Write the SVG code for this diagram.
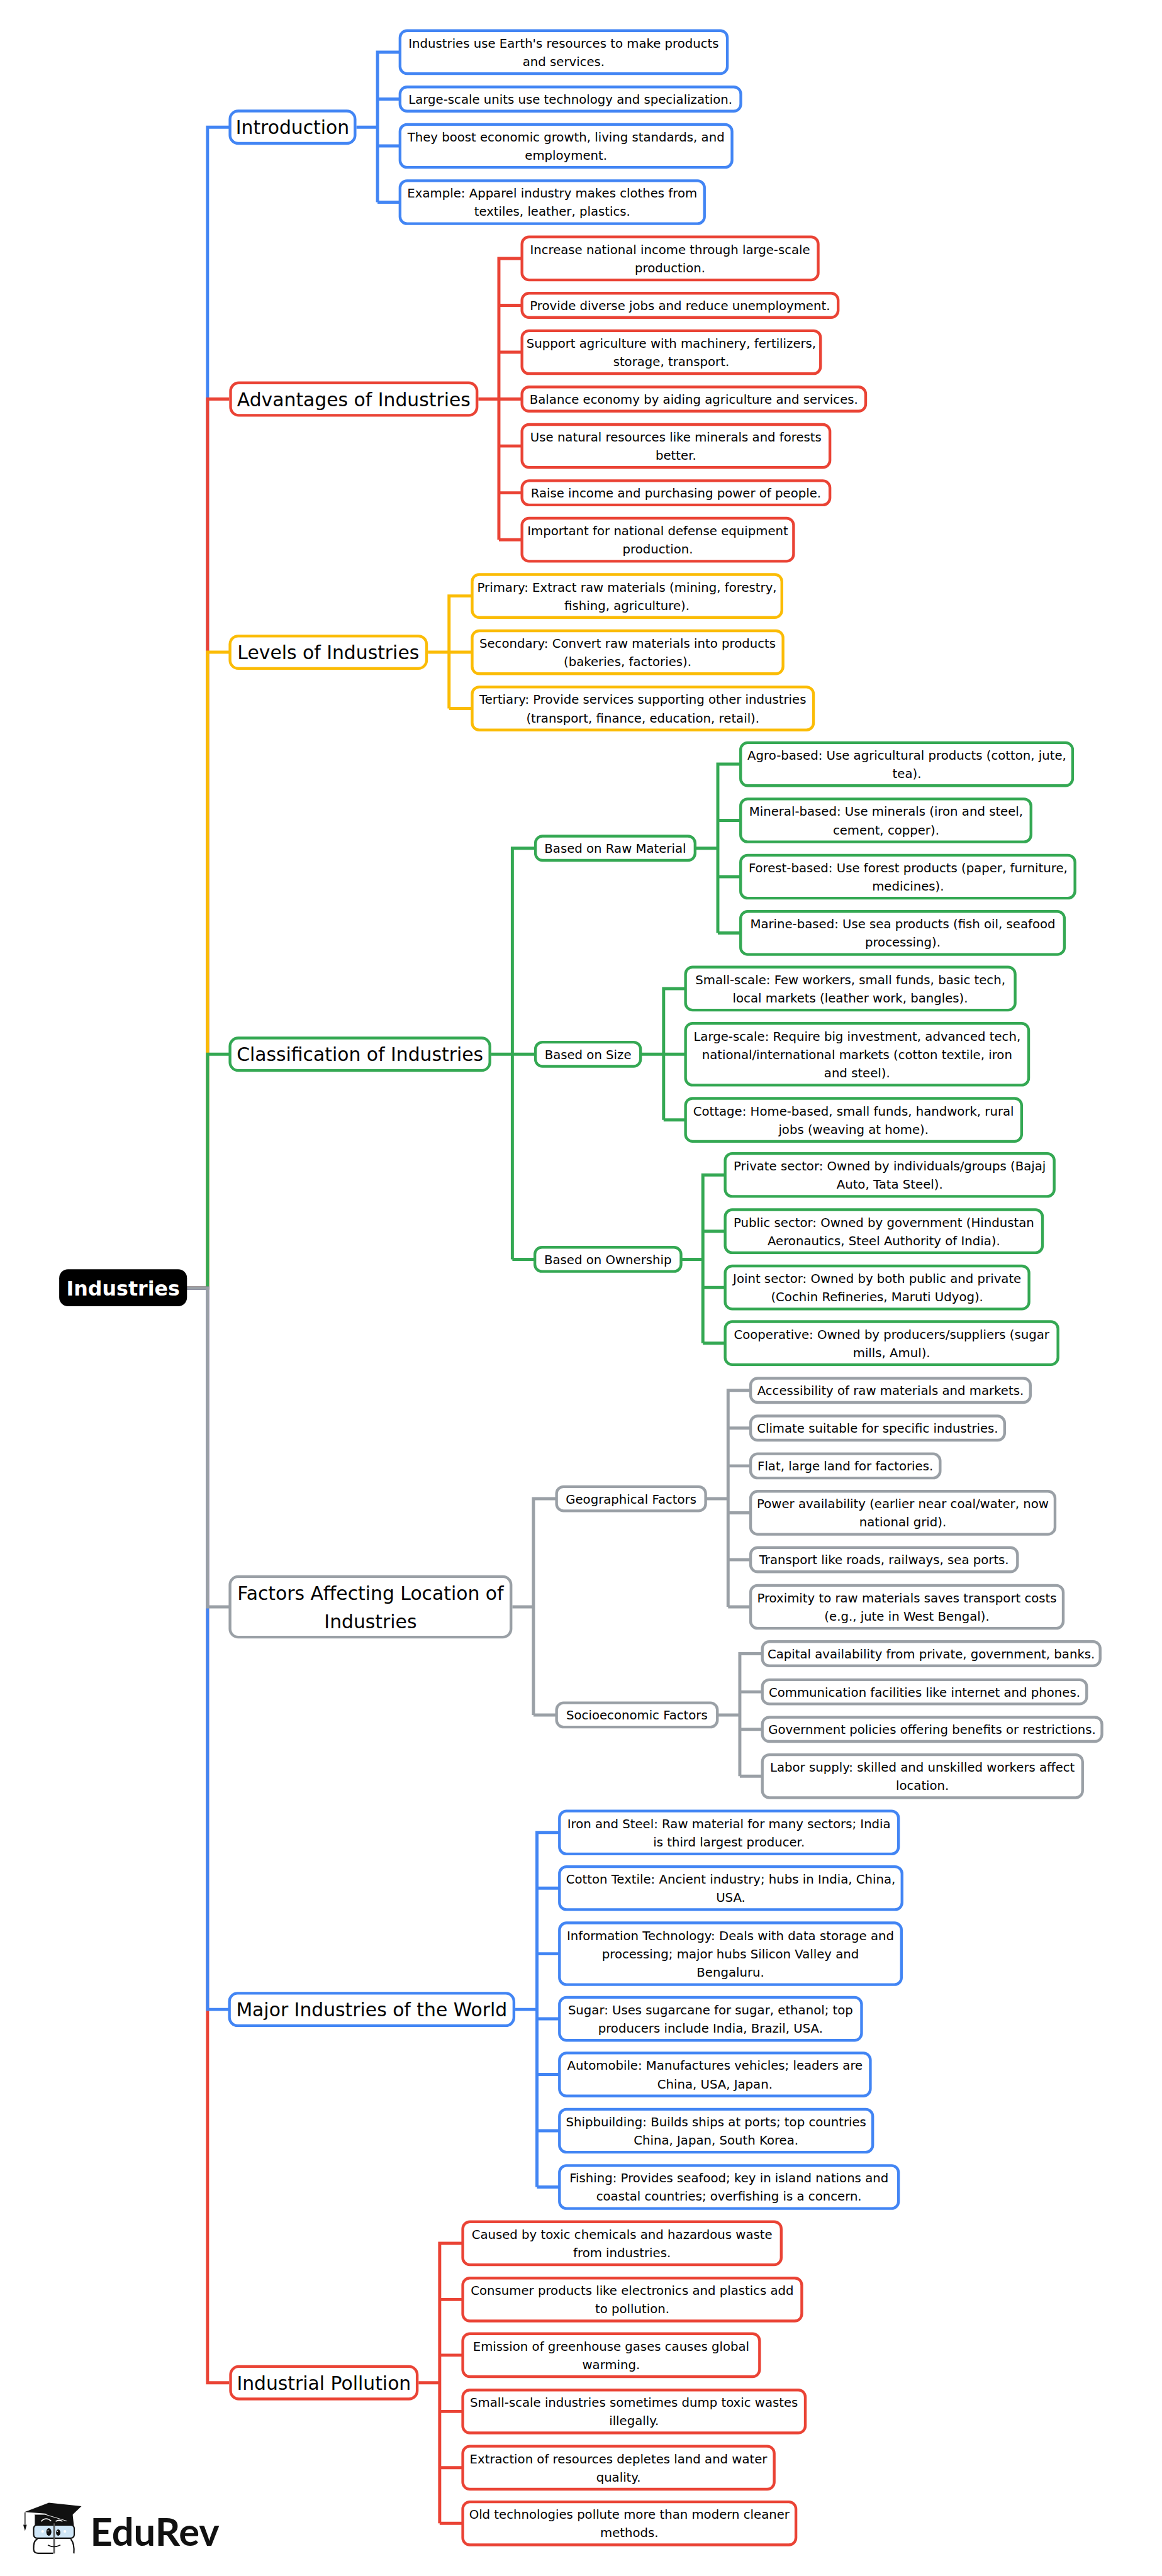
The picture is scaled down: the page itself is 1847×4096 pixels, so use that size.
<svg xmlns="http://www.w3.org/2000/svg" width="1847" height="4096" viewBox="0 0 1847 4096">
<style>
text{font-family:"DejaVu Sans","Liberation Sans",sans-serif;text-anchor:middle;fill:#000}
.t{font-size:21.15px}
.h{font-size:32px}
.root{font-size:34px;font-weight:700;fill:#fff}
.b{fill:#fff;stroke-width:4.7}
.c{fill:none;stroke-width:5.3;stroke-linejoin:miter}
.blue{stroke:#4285F4}.red{stroke:#EA4335}.yel{stroke:#FBBC05}.grn{stroke:#34A853}.gry{stroke:#9AA0A6}
</style>
<rect width="1847" height="4096" fill="#fff"/>
<g transform="scale(0.9318)">
<g id="connectors">
<path class="c blue" d="M319,2198H354V217H391"/>
<path class="c red" d="M319,2198H354V681H391"/>
<path class="c yel" d="M319,2198H354V1113H391"/>
<path class="c grn" d="M319,2198H354V1799H391"/>
<path class="c red" d="M319,2198H354V4066H391"/>
<path class="c blue" d="M319,2198H354V3429H391"/>
<path class="c gry" d="M319,2198H354V2742H391"/>
<path class="c blue" d="M608,217H644V89H682M644,169H682M644,249H682M644,345H682M644,217V345"/>
<path class="c red" d="M816,681H851V441H890M851,521H890M851,601H890M851,681H890M851,761H890M851,841H890M851,921H890M851,681V921"/>
<path class="c yel" d="M730,1113H766V1017H805M766,1113H805M766,1209H805M766,1113V1209"/>
<path class="c grn" d="M838,1799H874V1447.5H913M874,1799H913M874,2149H913M874,1799V2149"/>
<path class="c grn" d="M1187,1447.5H1224.5V1304H1264M1224.5,1400H1264M1224.5,1496H1264M1224.5,1592H1264M1224.5,1447.5V1592"/>
<path class="c grn" d="M1094,1799H1132V1687H1170M1132,1799H1170M1132,1911H1170M1132,1799V1911"/>
<path class="c grn" d="M1163,2149H1199V2005H1237M1199,2101H1237M1199,2197H1237M1199,2292H1237M1199,2149V2292"/>
<path class="c gry" d="M874,2742H910V2557.5H949M910,2926.5H949M910,2742V2926.5"/>
<path class="c gry" d="M1205,2557.5H1242V2372.5H1280M1242,2437H1280M1242,2501.5H1280M1242,2581.5H1280M1242,2661.5H1280M1242,2742H1280M1242,2557.5V2742"/>
<path class="c gry" d="M1225,2926.5H1262V2822H1301M1262,2887H1301M1262,2951H1301M1262,3031H1301M1262,2926.5V3031"/>
<path class="c blue" d="M879,3429H916V3127H955M916,3222H955M916,3334H955M916,3445H955M916,3540H955M916,3636H955M916,3732H955M916,3429V3732"/>
<path class="c red" d="M714,4066H750V3828H790M750,3924H790M750,4019H790M750,4115H790M750,4211H790M750,4306H790M750,4066V4306"/>
</g>

<g id="root"><rect x="101" y="2166" width="218" height="63" rx="15" fill="#000"/><text class="root" x="210" y="2211">Industries</text></g>

<g id="introduction"><rect class="b blue" x="392.35" y="189.35" width="213.3" height="55.3" rx="14"/><text class="h" x="499" y="229">Introduction</text></g>
<g id="intro-1"><rect class="b blue" x="682.4" y="52.35" width="558.3" height="73.3" rx="12"/><text class="t" x="961.5" y="81.4">Industries use Earth's resources to make products<tspan x="961.5" dy="31.2">and services.</tspan></text></g>
<g id="intro-2"><rect class="b blue" x="682.4" y="148.35" width="581.3" height="41.3" rx="12"/><text class="t" x="973" y="177">Large-scale units use technology and specialization.</text></g>
<g id="intro-3"><rect class="b blue" x="682.4" y="212.35" width="566.3" height="73.3" rx="12"/><text class="t" x="965.5" y="241.4">They boost economic growth, living standards, and<tspan x="965.5" dy="31.2">employment.</tspan></text></g>
<g id="intro-4"><rect class="b blue" x="682.4" y="308.35" width="519.3" height="73.3" rx="12"/><text class="t" x="942" y="337.4">Example: Apparel industry makes clothes from<tspan x="942" dy="31.2">textiles, leather, plastics.</tspan></text></g>

<g id="advantages"><rect class="b red" x="393.35" y="653.35" width="420.3" height="55.3" rx="14"/><text class="h" x="603.5" y="693">Advantages of Industries</text></g>
<g id="adv-1"><rect class="b red" x="890.4" y="404.35" width="505.3" height="73.3" rx="12"/><text class="t" x="1143" y="433.4">Increase national income through large-scale<tspan x="1143" dy="31.2">production.</tspan></text></g>
<g id="adv-2"><rect class="b red" x="890.4" y="500.35" width="539.3" height="41.3" rx="12"/><text class="t" x="1160" y="529">Provide diverse jobs and reduce unemployment.</text></g>
<g id="adv-3"><rect class="b red" x="890.4" y="564.35" width="509.3" height="73.3" rx="12"/><text class="t" x="1145" y="593.4">Support agriculture with machinery, fertilizers,<tspan x="1145" dy="31.2">storage, transport.</tspan></text></g>
<g id="adv-4"><rect class="b red" x="890.4" y="660.35" width="586.3" height="41.3" rx="12"/><text class="t" x="1183.5" y="689">Balance economy by aiding agriculture and services.</text></g>
<g id="adv-5"><rect class="b red" x="890.4" y="724.35" width="525.3" height="73.3" rx="12"/><text class="t" x="1153" y="753.4">Use natural resources like minerals and forests<tspan x="1153" dy="31.2">better.</tspan></text></g>
<g id="adv-6"><rect class="b red" x="890.4" y="820.35" width="525.3" height="41.3" rx="12"/><text class="t" x="1153" y="849">Raise income and purchasing power of people.</text></g>
<g id="adv-7"><rect class="b red" x="890.4" y="884.35" width="463.3" height="73.3" rx="12"/><text class="t" x="1122" y="913.4">Important for national defense equipment<tspan x="1122" dy="31.2">production.</tspan></text></g>

<g id="levels"><rect class="b yel" x="392.35" y="1085.35" width="335.3" height="55.3" rx="14"/><text class="h" x="560" y="1125">Levels of Industries</text></g>
<g id="lev-1"><rect class="b yel" x="805.4" y="980.35" width="528.3" height="73.3" rx="12"/><text class="t" x="1069.5" y="1009.4">Primary: Extract raw materials (mining, forestry,<tspan x="1069.5" dy="31.2">fishing, agriculture).</tspan></text></g>
<g id="lev-2"><rect class="b yel" x="805.4" y="1076.35" width="530.3" height="73.3" rx="12"/><text class="t" x="1070.5" y="1105.4">Secondary: Convert raw materials into products<tspan x="1070.5" dy="31.2">(bakeries, factories).</tspan></text></g>
<g id="lev-3"><rect class="b yel" x="805.4" y="1172.35" width="582.3" height="73.3" rx="12"/><text class="t" x="1096.5" y="1201.4">Tertiary: Provide services supporting other industries<tspan x="1096.5" dy="31.2">(transport, finance, education, retail).</tspan></text></g>

<g id="classification"><rect class="b grn" x="392.35" y="1771.35" width="443.3" height="55.3" rx="14"/><text class="h" x="614" y="1811">Classification of Industries</text></g>
<g id="raw"><rect class="b grn" x="913.4" y="1426.85" width="272.3" height="41.3" rx="12"/><text class="t" x="1049.5" y="1455.5">Based on Raw Material</text></g>
<g id="raw-1"><rect class="b grn" x="1263.4" y="1267.35" width="566.3" height="73.3" rx="12"/><text class="t" x="1547" y="1296.4">Agro-based: Use agricultural products (cotton, jute,<tspan x="1547" dy="31.2">tea).</tspan></text></g>
<g id="raw-2"><rect class="b grn" x="1263.4" y="1363.35" width="495.3" height="73.3" rx="12"/><text class="t" x="1511.5" y="1392.4">Mineral-based: Use minerals (iron and steel,<tspan x="1511.5" dy="31.2">cement, copper).</tspan></text></g>
<g id="raw-3"><rect class="b grn" x="1263.4" y="1459.35" width="570.3" height="73.3" rx="12"/><text class="t" x="1549" y="1488.4">Forest-based: Use forest products (paper, furniture,<tspan x="1549" dy="31.2">medicines).</tspan></text></g>
<g id="raw-4"><rect class="b grn" x="1263.4" y="1555.35" width="552.3" height="73.3" rx="12"/><text class="t" x="1540" y="1584.4">Marine-based: Use sea products (fish oil, seafood<tspan x="1540" dy="31.2">processing).</tspan></text></g>
<g id="size"><rect class="b grn" x="913.4" y="1778.35" width="179.3" height="41.3" rx="12"/><text class="t" x="1003" y="1807">Based on Size</text></g>
<g id="size-1"><rect class="b grn" x="1169.4" y="1650.35" width="562.3" height="73.3" rx="12"/><text class="t" x="1450.5" y="1679.4">Small-scale: Few workers, small funds, basic tech,<tspan x="1450.5" dy="31.2">local markets (leather work, bangles).</tspan></text></g>
<g id="size-2"><rect class="b grn" x="1169.4" y="1746.35" width="585.3" height="105.3" rx="12"/><text class="t" x="1462" y="1775.8">Large-scale: Require big investment, advanced tech,<tspan x="1462" dy="31.2">national/international markets (cotton textile, iron</tspan><tspan x="1462" dy="31.2">and steel).</tspan></text></g>
<g id="size-3"><rect class="b grn" x="1169.4" y="1874.35" width="573.3" height="73.3" rx="12"/><text class="t" x="1456" y="1903.4">Cottage: Home-based, small funds, handwork, rural<tspan x="1456" dy="31.2">jobs (weaving at home).</tspan></text></g>
<g id="own"><rect class="b grn" x="912.4" y="2128.35" width="249.3" height="41.3" rx="12"/><text class="t" x="1037" y="2157">Based on Ownership</text></g>
<g id="own-1"><rect class="b grn" x="1237" y="1968.35" width="561.3" height="73.3" rx="12"/><text class="t" x="1517.7" y="1997.4">Private sector: Owned by individuals/groups (Bajaj<tspan x="1517.7" dy="31.2">Auto, Tata Steel).</tspan></text></g>
<g id="own-2"><rect class="b grn" x="1237" y="2064.35" width="541.3" height="73.3" rx="12"/><text class="t" x="1507.7" y="2093.4">Public sector: Owned by government (Hindustan<tspan x="1507.7" dy="31.2">Aeronautics, Steel Authority of India).</tspan></text></g>
<g id="own-3"><rect class="b grn" x="1237" y="2160.35" width="518.3" height="73.3" rx="12"/><text class="t" x="1496.2" y="2189.4">Joint sector: Owned by both public and private<tspan x="1496.2" dy="31.2">(Cochin Refineries, Maruti Udyog).</tspan></text></g>
<g id="own-4"><rect class="b grn" x="1237" y="2255.35" width="567.7" height="73.3" rx="12"/><text class="t" x="1520.9" y="2284.4">Cooperative: Owned by producers/suppliers (sugar<tspan x="1520.9" dy="31.2">mills, Amul).</tspan></text></g>

<g id="factors"><rect class="b gry" x="392.35" y="2690.35" width="479.3" height="103.3" rx="14"/><text class="h" x="632" y="2730">Factors Affecting Location of<tspan x="632" dy="48">Industries</tspan></text></g>
<g id="geo"><rect class="b gry" x="949.4" y="2536.85" width="254.3" height="41.3" rx="12"/><text class="t" x="1076.5" y="2565.5">Geographical Factors</text></g>
<g id="geo-1"><rect class="b gry" x="1280.4" y="2351.85" width="477.3" height="41.3" rx="12"/><text class="t" x="1519" y="2380.5">Accessibility of raw materials and markets.</text></g>
<g id="geo-2"><rect class="b gry" x="1280.4" y="2416.35" width="433.3" height="41.3" rx="12"/><text class="t" x="1497" y="2445">Climate suitable for specific industries.</text></g>
<g id="geo-3"><rect class="b gry" x="1280.4" y="2480.85" width="323.3" height="41.3" rx="12"/><text class="t" x="1442" y="2509.5">Flat, large land for factories.</text></g>
<g id="geo-4"><rect class="b gry" x="1280.4" y="2544.85" width="519.3" height="73.3" rx="12"/><text class="t" x="1540" y="2573.9">Power availability (earlier near coal/water, now<tspan x="1540" dy="31.2">national grid).</tspan></text></g>
<g id="geo-5"><rect class="b gry" x="1280.4" y="2640.85" width="455.3" height="41.3" rx="12"/><text class="t" x="1508" y="2669.5">Transport like roads, railways, sea ports.</text></g>
<g id="geo-6"><rect class="b gry" x="1280.4" y="2705.35" width="533.3" height="73.3" rx="12"/><text class="t" x="1547" y="2734.4">Proximity to raw materials saves transport costs<tspan x="1547" dy="31.2">(e.g., jute in West Bengal).</tspan></text></g>
<g id="socio"><rect class="b gry" x="949.4" y="2905.85" width="274.3" height="41.3" rx="12"/><text class="t" x="1086.5" y="2934.5">Socioeconomic Factors</text></g>
<g id="soc-1"><rect class="b gry" x="1300.4" y="2801.35" width="576.3" height="41.3" rx="12"/><text class="t" x="1588.5" y="2830">Capital availability from private, government, banks.</text></g>
<g id="soc-2"><rect class="b gry" x="1300.4" y="2866.35" width="553.3" height="41.3" rx="12"/><text class="t" x="1577" y="2895">Communication facilities like internet and phones.</text></g>
<g id="soc-3"><rect class="b gry" x="1300.4" y="2930.35" width="579.3" height="41.3" rx="12"/><text class="t" x="1590" y="2959">Government policies offering benefits or restrictions.</text></g>
<g id="soc-4"><rect class="b gry" x="1300.4" y="2994.35" width="546.3" height="73.3" rx="12"/><text class="t" x="1573.5" y="3023.4">Labor supply: skilled and unskilled workers affect<tspan x="1573.5" dy="31.2">location.</tspan></text></g>

<g id="major"><rect class="b blue" x="391.35" y="3401.35" width="485.3" height="55.3" rx="14"/><text class="h" x="634" y="3441">Major Industries of the World</text></g>
<g id="maj-1"><rect class="b blue" x="954.4" y="3090.35" width="578.3" height="73.3" rx="12"/><text class="t" x="1243.5" y="3119.4">Iron and Steel: Raw material for many sectors; India<tspan x="1243.5" dy="31.2">is third largest producer.</tspan></text></g>
<g id="maj-2"><rect class="b blue" x="954.4" y="3185.35" width="584.3" height="73.3" rx="12"/><text class="t" x="1246.5" y="3214.4">Cotton Textile: Ancient industry; hubs in India, China,<tspan x="1246.5" dy="31.2">USA.</tspan></text></g>
<g id="maj-3"><rect class="b blue" x="954.4" y="3281.35" width="583.3" height="105.3" rx="12"/><text class="t" x="1246" y="3310.8">Information Technology: Deals with data storage and<tspan x="1246" dy="31.2">processing; major hubs Silicon Valley and</tspan><tspan x="1246" dy="31.2">Bengaluru.</tspan></text></g>
<g id="maj-4"><rect class="b blue" x="954.4" y="3408.35" width="515.3" height="73.3" rx="12"/><text class="t" x="1212" y="3437.4">Sugar: Uses sugarcane for sugar, ethanol; top<tspan x="1212" dy="31.2">producers include India, Brazil, USA.</tspan></text></g>
<g id="maj-5"><rect class="b blue" x="954.4" y="3503.35" width="530.3" height="73.3" rx="12"/><text class="t" x="1219.5" y="3532.4">Automobile: Manufactures vehicles; leaders are<tspan x="1219.5" dy="31.2">China, USA, Japan.</tspan></text></g>
<g id="maj-6"><rect class="b blue" x="954.4" y="3599.35" width="534.3" height="73.3" rx="12"/><text class="t" x="1221.5" y="3628.4">Shipbuilding: Builds ships at ports; top countries<tspan x="1221.5" dy="31.2">China, Japan, South Korea.</tspan></text></g>
<g id="maj-7"><rect class="b blue" x="954.4" y="3695.35" width="578.3" height="73.3" rx="12"/><text class="t" x="1243.5" y="3724.4">Fishing: Provides seafood; key in island nations and<tspan x="1243.5" dy="31.2">coastal countries; overfishing is a concern.</tspan></text></g>

<g id="pollution"><rect class="b red" x="393.35" y="4038.35" width="318.3" height="55.3" rx="14"/><text class="h" x="552.5" y="4078">Industrial Pollution</text></g>
<g id="pol-1"><rect class="b red" x="789.4" y="3791.35" width="543.3" height="73.3" rx="12"/><text class="t" x="1061" y="3820.4">Caused by toxic chemicals and hazardous waste<tspan x="1061" dy="31.2">from industries.</tspan></text></g>
<g id="pol-2"><rect class="b red" x="789.4" y="3887.35" width="578.3" height="73.3" rx="12"/><text class="t" x="1078.5" y="3916.4">Consumer products like electronics and plastics add<tspan x="1078.5" dy="31.2">to pollution.</tspan></text></g>
<g id="pol-3"><rect class="b red" x="789.4" y="3982.35" width="506.3" height="73.3" rx="12"/><text class="t" x="1042.5" y="4011.4">Emission of greenhouse gases causes global<tspan x="1042.5" dy="31.2">warming.</tspan></text></g>
<g id="pol-4"><rect class="b red" x="789.4" y="4078.35" width="584.3" height="73.3" rx="12"/><text class="t" x="1081.5" y="4107.4">Small-scale industries sometimes dump toxic wastes<tspan x="1081.5" dy="31.2">illegally.</tspan></text></g>
<g id="pol-5"><rect class="b red" x="789.4" y="4174.35" width="531.3" height="73.3" rx="12"/><text class="t" x="1055" y="4203.4">Extraction of resources depletes land and water<tspan x="1055" dy="31.2">quality.</tspan></text></g>
<g id="pol-6"><rect class="b red" x="789.4" y="4269.35" width="568.3" height="73.3" rx="12"/><text class="t" x="1073.5" y="4298.4">Old technologies pollute more than modern cleaner<tspan x="1073.5" dy="31.2">methods.</tspan></text></g>

<g id="logo">
<g transform="translate(20 4250) scale(0.3333)">
<path d="M118,122H312L318,180H118Z" fill="#111"/>
<path d="M66,110L190,62L357,80L282,152L172,118Z" fill="#111"/>
<path d="M120,122L170,122L282,156" fill="none" stroke="#fff" stroke-width="3"/>
<path d="M68,112V175" stroke="#111" stroke-width="5" fill="none"/>
<path d="M59,175H77L68,207Z" fill="#111"/>
<path d="M150,158Q175,132 202,156M225,158Q242,146 260,158" fill="none" stroke="#fff" stroke-width="5"/>
<rect x="112" y="176" width="208" height="68" rx="18" fill="#cfe6f7" stroke="#111" stroke-width="7"/>
<path d="M217,168V322" stroke="#111" stroke-width="8"/>
<path d="M217,168V322" stroke="#fff" stroke-width="2"/>
<ellipse cx="190" cy="212" rx="13" ry="19" fill="#111"/><ellipse cx="238" cy="215" rx="11" ry="16" fill="#111"/>
<circle cx="186" cy="206" r="3" fill="#fff"/><circle cx="234" cy="209" r="3" fill="#fff"/>
<circle cx="158" cy="209" r="7" fill="#fff"/><circle cx="272" cy="209" r="7" fill="#fff"/>
<path d="M132,248Q110,255 112,300Q113,321 135,321H212M302,248Q322,270 318,322" fill="none" stroke="#111" stroke-width="7"/>
<path d="M185,279Q215,296 249,279" fill="none" stroke="#111" stroke-width="5"/>
</g>
<text x="154" y="4344" style="font-family:Lato,'Liberation Sans',sans-serif;font-weight:700;font-size:66px;text-anchor:start;fill:#111">EduRev</text>
</g>
</g>
</svg>
